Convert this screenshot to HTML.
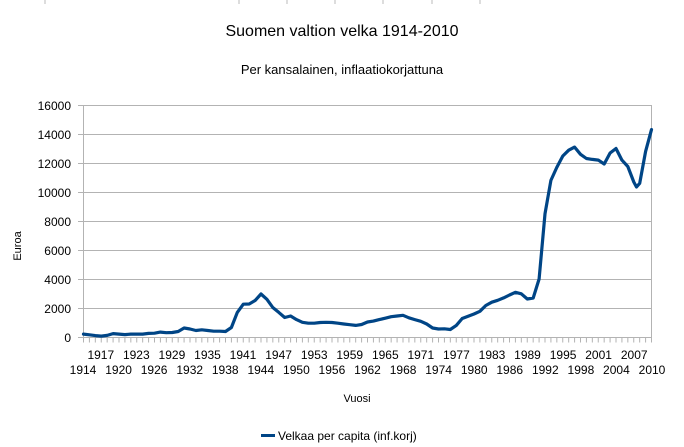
<!DOCTYPE html>
<html><head><meta charset="utf-8"><style>
html,body{margin:0;padding:0;background:#fff;}
svg{display:block;font-family:"Liberation Sans",Arial,sans-serif;}
</style></head><body>
<svg width="684" height="447" viewBox="0 0 684 447" xmlns="http://www.w3.org/2000/svg">
<g stroke="#bbb" stroke-width="1">
<line x1="45" y1="0" x2="45" y2="4"/><line x1="239" y1="0" x2="239" y2="4"/><line x1="287" y1="0" x2="287" y2="4"/><line x1="335" y1="0" x2="335" y2="4"/><line x1="383" y1="0" x2="383" y2="4"/><line x1="432" y1="0" x2="432" y2="4"/><line x1="480" y1="0" x2="480" y2="4"/>
</g>
<text x="342" y="36" font-size="16" text-anchor="middle" fill="#000">Suomen valtion velka 1914-2010</text>
<text x="342" y="74" font-size="13" text-anchor="middle" fill="#000">Per kansalainen, inflaatiokorjattuna</text>
<g stroke="#b3b3b3" stroke-width="1" fill="none">
<line x1="78" y1="105.5" x2="651.5" y2="105.5"/>
<line x1="78" y1="134.5" x2="651.5" y2="134.5"/>
<line x1="78" y1="163.5" x2="651.5" y2="163.5"/>
<line x1="78" y1="192.5" x2="651.5" y2="192.5"/>
<line x1="78" y1="221.5" x2="651.5" y2="221.5"/>
<line x1="78" y1="250.5" x2="651.5" y2="250.5"/>
<line x1="78" y1="279.5" x2="651.5" y2="279.5"/>
<line x1="78" y1="308.5" x2="651.5" y2="308.5"/>
<line x1="78" y1="337.5" x2="652" y2="337.5"/>
<line x1="83.5" y1="105" x2="83.5" y2="337"/>
<line x1="651.5" y1="105" x2="651.5" y2="342"/>
<line x1="83" y1="340" x2="653" y2="340" stroke-width="5" stroke-dasharray="1 4.9167"/>
</g>
<g font-size="12" fill="#000" text-anchor="end">
<text x="71" y="110">16000</text><text x="71" y="139">14000</text><text x="71" y="168">12000</text><text x="71" y="197">10000</text><text x="71" y="226">8000</text><text x="71" y="255">6000</text><text x="71" y="284">4000</text><text x="71" y="313">2000</text><text x="71" y="342">0</text>
</g>
<g font-size="12" fill="#000" text-anchor="middle">
<text x="100.8" y="359">1917</text><text x="136.3" y="359">1923</text><text x="171.9" y="359">1929</text><text x="207.5" y="359">1935</text><text x="243" y="359">1941</text><text x="278.6" y="359">1947</text><text x="314.2" y="359">1953</text><text x="349.7" y="359">1959</text><text x="385.3" y="359">1965</text><text x="420.8" y="359">1971</text><text x="456.4" y="359">1977</text><text x="492" y="359">1983</text><text x="527.5" y="359">1989</text><text x="563.1" y="359">1995</text><text x="598.6" y="359">2001</text><text x="634.2" y="359">2007</text>
<text x="83" y="374">1914</text><text x="118.6" y="374">1920</text><text x="154.1" y="374">1926</text><text x="189.7" y="374">1932</text><text x="225.2" y="374">1938</text><text x="260.8" y="374">1944</text><text x="296.4" y="374">1950</text><text x="331.9" y="374">1956</text><text x="367.5" y="374">1962</text><text x="403.1" y="374">1968</text><text x="438.6" y="374">1974</text><text x="474.2" y="374">1980</text><text x="509.7" y="374">1986</text><text x="545.3" y="374">1992</text><text x="580.9" y="374">1998</text><text x="616.4" y="374">2004</text><text x="652" y="374">2010</text>
</g>
<text x="357" y="402" font-size="11" text-anchor="middle">Vuosi</text>
<text transform="translate(21,246) rotate(-90)" font-size="11" text-anchor="middle">Euroa</text>
<line x1="261" y1="435.5" x2="275" y2="435.5" stroke="#004586" stroke-width="3"/>
<text x="278" y="440" font-size="12">Velkaa per capita (inf.korj)</text>
<polyline fill="none" stroke="#004586" stroke-width="3.2" stroke-linejoin="round" stroke-linecap="round" points="83.5,334.1 89.4,334.8 95.3,335.6 101.3,336.1 107.2,335.4 113.1,333.6 119,334.1 124.9,334.6 130.8,334.1 136.8,334.1 142.7,334.1 148.6,333.4 154.5,333.2 160.4,332.1 166.3,332.7 172.3,332.5 178.2,331.5 184.1,328 190,329 195.9,330.5 201.8,329.8 207.8,330.5 213.7,331.2 219.6,331.2 225.5,331.5 231.4,327.5 237.3,312.4 243.3,304.2 249.2,304 255.1,300.5 261,294 266.9,299.3 272.8,307.5 278.8,312.4 284.7,317.5 290.6,316 296.5,319.6 302.4,322.3 308.3,323.2 314.3,323.2 320.2,322.5 326.1,322.3 332,322.5 337.9,323.2 343.8,324 349.8,324.7 355.7,325.4 361.6,324.5 367.5,322 373.4,321.1 379.3,319.6 385.3,318.2 391.2,316.7 397.1,316 403,315.3 408.9,317.8 414.8,319.6 420.8,321.3 426.7,324 432.6,328 438.5,329 444.4,328.8 450.3,329.5 456.3,325.4 462.2,318.5 468.1,316.2 474,314 479.9,311.3 485.8,305.5 491.8,302.2 497.7,300.3 503.6,297.9 509.5,295 515.4,292.3 521.3,293.8 527.3,299 533.2,298 539.1,279 545,213.8 550.9,180.4 556.8,167.4 562.8,156 568.7,150.2 574.6,147.1 580.5,154.3 586.4,158.5 592.3,159.4 598.3,160.1 604.2,164 610.1,153 616,148.5 621.9,160.1 627.8,166.5 633.8,182 636.5,187 639.7,183.3 645.6,151.4 651.5,129.6"/>
</svg>
</body></html>
